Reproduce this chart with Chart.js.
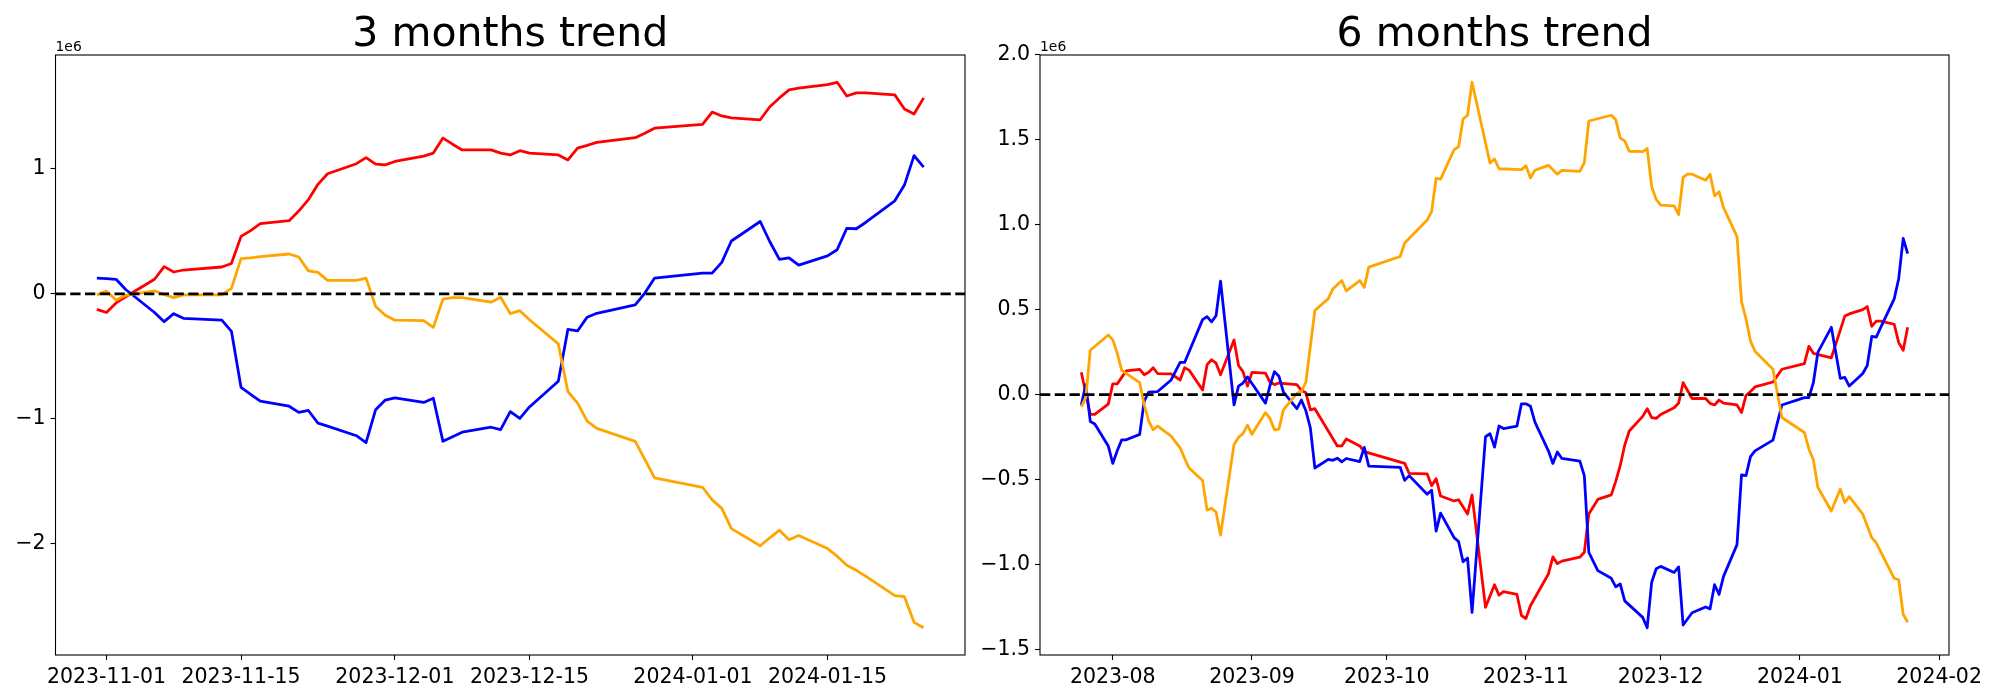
<!DOCTYPE html>
<html>
<head>
<meta charset="utf-8">
<script src="https://cdn.jsdelivr.net/npm/chart.js@4.4.1/dist/chart.umd.min.js"></script>
<style>
  html, body { margin: 0; padding: 0; background: #fff; }
  #wrap { position: relative; width: 2000px; height: 700px; overflow: hidden; }
  canvas { position: absolute; top: 0; }
</style>
</head>
<body>
<div id="wrap">
  <canvas id="chart3" width="970" height="700" style="left:0px"></canvas>
  <canvas id="chart6" width="1030" height="700" style="left:970px"></canvas>
</div>
<script>
// values are in units of 1e6

// ---- 3 months ----
const dates3 = ['2023-10-31','2023-11-01','2023-11-02','2023-11-03','2023-11-06','2023-11-07','2023-11-08','2023-11-09',
  '2023-11-13','2023-11-14','2023-11-15','2023-11-16','2023-11-17','2023-11-20','2023-11-21','2023-11-22','2023-11-23','2023-11-24',
  '2023-11-27','2023-11-28','2023-11-29','2023-11-30','2023-12-01','2023-12-04','2023-12-05','2023-12-06','2023-12-07','2023-12-08',
  '2023-12-11','2023-12-12','2023-12-13','2023-12-14','2023-12-15','2023-12-18','2023-12-19','2023-12-20','2023-12-21','2023-12-22',
  '2023-12-26','2023-12-27','2023-12-28','2024-01-02','2024-01-03','2024-01-04','2024-01-05','2024-01-08','2024-01-09','2024-01-10',
  '2024-01-11','2024-01-12','2024-01-15','2024-01-16','2024-01-17','2024-01-18','2024-01-19','2024-01-22','2024-01-23','2024-01-24','2024-01-25'];
const red3 = [-0.125,-0.150,-0.073,-0.024, 0.116,0.217,0.174,0.190, 0.214,0.242,0.459,0.505,0.560, 0.584,0.661,0.752,0.875,0.960,
  1.040,1.089,1.037,1.031,1.058, 1.101,1.125,1.245,1.196,1.150, 1.150,1.125,1.110,1.144,1.125, 1.110,1.070,1.165,1.187,1.211,
  1.248,1.284,1.324, 1.355,1.453,1.422,1.407, 1.391,1.495,1.566,1.630,1.645, 1.673,1.691,1.581,1.606,1.606, 1.590,1.477,1.437,1.566];
const blue3 = [0.125,0.122,0.116,0.034, -0.150,-0.223,-0.159,-0.196, -0.211,-0.300,-0.749,-0.804,-0.859, -0.899,-0.948,-0.933,-1.034,-1.058,
  -1.135,-1.190,-0.927,-0.850,-0.832, -0.869,-0.835,-1.180,-1.144,-1.107, -1.067,-1.086,-0.942,-0.997,-0.905, -0.700,-0.284,-0.297,-0.187,-0.156,
  -0.089,0.006,0.125, 0.165,0.165,0.251,0.422, 0.578,0.416,0.275,0.287,0.229, 0.303,0.352,0.523,0.520,0.572, 0.743,0.869,1.104,1.012];
const orange3 = [-0.009,0.021,-0.049,-0.012, 0.024,-0.006,-0.031,-0.009, -0.009,0.043,0.281,0.287,0.297, 0.318,0.294,0.183,0.171,0.107,
  0.107,0.125,-0.101,-0.171,-0.211, -0.214,-0.269,-0.043,-0.031,-0.031, -0.067,-0.028,-0.159,-0.135,-0.208, -0.401,-0.783,-0.875,-1.018,-1.076,
  -1.180,-1.324,-1.471, -1.547,-1.648,-1.716,-1.878, -2.015,-1.951,-1.890,-1.966,-1.933, -2.037,-2.098,-2.171,-2.211,-2.260, -2.413,-2.422,-2.627,-2.670];

const xTicks3 = ['2023-11-01','2023-11-15','2023-12-01','2023-12-15','2024-01-01','2024-01-15'];
const yTicks3 = [-2, -1, 0, 1];
const yLabels3 = ['\u22122', '\u22121', '0', '1'];

// ---- 6 months (each line keeps its own turning-point dates) ----
const red6Dates = ['2023-07-25','2023-07-27','2023-07-28','2023-07-31','2023-08-01','2023-08-02','2023-08-04','2023-08-07','2023-08-08',
  '2023-08-09','2023-08-10','2023-08-11','2023-08-14','2023-08-16','2023-08-17','2023-08-18','2023-08-21','2023-08-22','2023-08-23',
  '2023-08-24','2023-08-25','2023-08-28','2023-08-29','2023-08-30','2023-08-31','2023-09-01','2023-09-04','2023-09-05','2023-09-06',
  '2023-09-07','2023-09-11','2023-09-12','2023-09-13','2023-09-14','2023-09-15','2023-09-20','2023-09-21','2023-09-22','2023-09-25',
  '2023-09-26','2023-10-05','2023-10-06','2023-10-10','2023-10-11','2023-10-12','2023-10-13','2023-10-16','2023-10-17','2023-10-19',
  '2023-10-20','2023-10-23','2023-10-25','2023-10-26','2023-10-27','2023-10-30','2023-10-31','2023-11-01','2023-11-02','2023-11-06',
  '2023-11-07','2023-11-08','2023-11-09','2023-11-13','2023-11-14','2023-11-15','2023-11-17','2023-11-20','2023-11-21','2023-11-22',
  '2023-11-23','2023-11-24','2023-11-27','2023-11-28','2023-11-29','2023-11-30','2023-12-01','2023-12-04','2023-12-05','2023-12-06',
  '2023-12-08','2023-12-11','2023-12-12','2023-12-13','2023-12-14','2023-12-15','2023-12-18','2023-12-19','2023-12-20','2023-12-21',
  '2023-12-22','2023-12-26','2023-12-28','2024-01-02','2024-01-03','2024-01-04','2024-01-08','2024-01-11','2024-01-12','2024-01-15',
  '2024-01-16','2024-01-17','2024-01-18','2024-01-19','2024-01-22','2024-01-23','2024-01-24','2024-01-25'];
const red6 = [0.131,-0.117,-0.117,-0.056,0.063,0.063,0.140,0.149,0.117,
  0.131,0.158,0.124,0.122,0.086,0.158,0.144,0.027,0.176,0.205,
  0.185,0.117,0.322,0.171,0.135,0.050,0.131,0.126,0.074,0.059,
  0.068,0.059,0.025,0.011,-0.090,-0.083,-0.302,-0.302,-0.261,-0.302,
  -0.336,-0.405,-0.464,-0.466,-0.536,-0.495,-0.597,-0.626,-0.619,-0.703,
  -0.590,-1.252,-1.119,-1.180,-1.160,-1.176,-1.300,-1.318,-1.243,-1.056,
  -0.955,-0.995,-0.980,-0.957,-0.928,-0.703,-0.617,-0.590,-0.511,-0.417,
  -0.297,-0.214,-0.128,-0.083,-0.135,-0.140,-0.117,-0.077,-0.050,0.070,
  -0.023,-0.023,-0.052,-0.061,-0.032,-0.050,-0.061,-0.106,-0.005,0.018,
  0.045,0.074,0.149,0.182,0.284,0.243,0.216,0.462,0.475,0.500,
  0.518,0.401,0.432,0.432,0.414,0.306,0.261,0.396];

const blue6Dates = ['2023-07-25','2023-07-26','2023-07-27','2023-07-28','2023-07-31','2023-08-01','2023-08-02','2023-08-03','2023-08-04',
  '2023-08-07','2023-08-08','2023-08-09','2023-08-11','2023-08-14','2023-08-16','2023-08-17','2023-08-21','2023-08-22','2023-08-23',
  '2023-08-24','2023-08-25','2023-08-28','2023-08-29','2023-08-30','2023-08-31','2023-09-04','2023-09-05','2023-09-06','2023-09-07',
  '2023-09-08','2023-09-11','2023-09-12','2023-09-13','2023-09-14','2023-09-15','2023-09-18','2023-09-19','2023-09-20','2023-09-21',
  '2023-09-22','2023-09-25','2023-09-26','2023-09-27','2023-10-04','2023-10-05','2023-10-06','2023-10-10','2023-10-11','2023-10-12',
  '2023-10-13','2023-10-16','2023-10-17','2023-10-18','2023-10-19','2023-10-20','2023-10-23','2023-10-24','2023-10-25','2023-10-26',
  '2023-10-27','2023-10-30','2023-10-31','2023-11-01','2023-11-02','2023-11-03','2023-11-06','2023-11-07','2023-11-08','2023-11-09',
  '2023-11-13','2023-11-14','2023-11-15','2023-11-17','2023-11-20','2023-11-21','2023-11-22','2023-11-23','2023-11-27','2023-11-28',
  '2023-11-29','2023-11-30','2023-12-01','2023-12-04','2023-12-05','2023-12-06','2023-12-08','2023-12-11','2023-12-12','2023-12-13',
  '2023-12-14','2023-12-15','2023-12-18','2023-12-19','2023-12-20','2023-12-21','2023-12-22','2023-12-26','2023-12-28','2024-01-02',
  '2024-01-03','2024-01-04','2024-01-05','2024-01-08','2024-01-10','2024-01-11','2024-01-12','2024-01-15','2024-01-16','2024-01-17',
  '2024-01-18','2024-01-19','2024-01-22','2024-01-23','2024-01-24','2024-01-25'];
const blue6 = [-0.061,0.059,-0.158,-0.173,-0.302,-0.405,-0.331,-0.266,-0.266,
  -0.234,-0.038,0.014,0.018,0.086,0.189,0.189,0.441,0.459,0.428,
  0.464,0.667,-0.061,0.050,0.068,0.104,-0.050,0.052,0.135,0.108,
  0.014,-0.083,-0.032,-0.095,-0.196,-0.432,-0.381,-0.387,-0.374,-0.396,
  -0.376,-0.394,-0.311,-0.421,-0.428,-0.505,-0.477,-0.586,-0.563,-0.804,
  -0.698,-0.842,-0.865,-0.984,-0.962,-1.282,-0.248,-0.230,-0.309,-0.185,
  -0.200,-0.185,-0.054,-0.054,-0.068,-0.162,-0.331,-0.405,-0.338,-0.376,
  -0.392,-0.477,-0.928,-1.036,-1.081,-1.131,-1.115,-1.214,-1.311,-1.372,
  -1.104,-1.025,-1.011,-1.047,-1.014,-1.356,-1.284,-1.250,-1.261,-1.119,
  -1.176,-1.070,-0.883,-0.473,-0.477,-0.365,-0.331,-0.268,-0.061,-0.018,
  -0.018,0.070,0.248,0.396,0.095,0.101,0.050,0.124,0.171,0.342,
  0.338,0.396,0.563,0.682,0.919,0.829];

const orange6Dates = ['2023-07-25','2023-07-26','2023-07-27','2023-07-31','2023-08-01','2023-08-02','2023-08-03','2023-08-07','2023-08-08',
  '2023-08-09','2023-08-10','2023-08-11','2023-08-14','2023-08-16','2023-08-17','2023-08-18','2023-08-21','2023-08-22','2023-08-23',
  '2023-08-24','2023-08-25','2023-08-28','2023-08-29','2023-08-30','2023-08-31','2023-09-01','2023-09-04','2023-09-05','2023-09-06',
  '2023-09-07','2023-09-08','2023-09-11','2023-09-12','2023-09-13','2023-09-15','2023-09-18','2023-09-19','2023-09-21','2023-09-22',
  '2023-09-25','2023-09-26','2023-09-27','2023-10-04','2023-10-05','2023-10-10','2023-10-11','2023-10-12','2023-10-13','2023-10-16',
  '2023-10-17','2023-10-18','2023-10-19','2023-10-20','2023-10-24','2023-10-25','2023-10-26','2023-10-31','2023-11-01','2023-11-02',
  '2023-11-03','2023-11-06','2023-11-08','2023-11-09','2023-11-13','2023-11-14','2023-11-15','2023-11-20','2023-11-21','2023-11-22',
  '2023-11-23','2023-11-24','2023-11-27','2023-11-28','2023-11-29','2023-11-30','2023-12-01','2023-12-04','2023-12-05','2023-12-06',
  '2023-12-07','2023-12-08','2023-12-11','2023-12-12','2023-12-13','2023-12-14','2023-12-15','2023-12-18','2023-12-19','2023-12-20',
  '2023-12-21','2023-12-22','2023-12-26','2023-12-28','2024-01-02','2024-01-03','2024-01-04','2024-01-05','2024-01-08','2024-01-10',
  '2024-01-11','2024-01-12','2024-01-15','2024-01-17','2024-01-18','2024-01-22','2024-01-23','2024-01-24','2024-01-25'];
const orange6 = [-0.072,-0.016,0.261,0.351,0.322,0.243,0.142,0.070,-0.061,
  -0.155,-0.207,-0.185,-0.245,-0.313,-0.376,-0.432,-0.505,-0.680,-0.669,
  -0.691,-0.827,-0.293,-0.252,-0.230,-0.180,-0.234,-0.106,-0.140,-0.207,
  -0.203,-0.090,0.007,0.018,0.074,0.495,0.565,0.622,0.671,0.610,
  0.671,0.631,0.750,0.813,0.892,1.027,1.077,1.273,1.268,1.441,
  1.459,1.622,1.644,1.838,1.363,1.387,1.329,1.324,1.347,1.275,
  1.320,1.349,1.297,1.320,1.313,1.365,1.610,1.644,1.617,1.509,
  1.493,1.432,1.430,1.448,1.223,1.149,1.115,1.110,1.059,1.279,
  1.297,1.297,1.261,1.297,1.170,1.194,1.100,0.930,0.547,0.446,
  0.315,0.255,0.149,-0.135,-0.223,-0.320,-0.383,-0.545,-0.685,-0.556,
  -0.635,-0.601,-0.703,-0.842,-0.872,-1.081,-1.090,-1.293,-1.340];

const xTicks6 = ['2023-08','2023-09','2023-10','2023-11','2023-12','2024-01','2024-02'];
const yTicks6 = [-1.5, -1.0, -0.5, 0.0, 0.5, 1.0, 1.5, 2.0];
const yLabels6 = ['\u22121.5', '\u22121.0', '\u22120.5', '0.0', '0.5', '1.0', '1.5', '2.0'];

// ---- helpers ----
const day = s => Date.UTC(+s.slice(0, 4), +s.slice(5, 7) - 1, s.length > 7 ? +s.slice(8, 10) : 1) / 864e5;
const pts = (dates, vals) => dates.map((d, i) => ({ x: day(d), y: vals[i] }));

function padRange(values) {
  const lo = Math.min(...values), hi = Math.max(...values);
  const m = (hi - lo) * 0.05;
  return [lo - m, hi + m];
}

Chart.defaults.font.family = '"DejaVu Sans", sans-serif';
Chart.defaults.color = '#000';

// box, dashed zero line, title and 1e6 offset label
const frame = {
  id: 'frame',
  afterDatasetsDraw(chart, args, opts) {
    const { ctx, chartArea: a, scales } = chart;
    ctx.save();
    const y0 = scales.y.getPixelForValue(0);
    ctx.beginPath();
    ctx.setLineDash([10.3, 4.45]);
    ctx.lineWidth = 2.78;
    ctx.strokeStyle = '#000';
    ctx.moveTo(a.left, y0);
    ctx.lineTo(a.right, y0);
    ctx.stroke();
    ctx.setLineDash([]);
    ctx.lineWidth = 1.1;
    ctx.strokeRect(a.left, a.top, a.right - a.left, a.bottom - a.top);
    ctx.fillStyle = '#000';
    ctx.font = '41px "DejaVu Sans"';
    ctx.textAlign = 'center';
    ctx.textBaseline = 'alphabetic';
    ctx.fillText(opts.title, (a.left + a.right) / 2, 46);
    ctx.font = '13.9px "DejaVu Sans"';
    ctx.textAlign = 'left';
    ctx.fillText('1e6', a.left, a.top - 4.5);
    ctx.restore();
  }
};

function line(data, color, order) {
  return {
    data, borderColor: color, borderWidth: 2.78, pointRadius: 0,
    tension: 0, borderJoinStyle: 'round', order
  };
}

function makeChart(id, title, sets, xDates, xLabels, yTicks, yLabels, yWidth, padRight) {
  const allX = sets.flatMap(s => s.data.map(p => p.x));
  const allY = sets.flatMap(s => s.data.map(p => p.y));
  const [xMin, xMax] = padRange(allX);
  const [yMin, yMax] = padRange(allY);
  const tickStyle = { drawOnChartArea: false, tickLength: 5, tickWidth: 1.1, tickColor: '#000' };

  new Chart(document.getElementById(id), {
    type: 'line',
    data: { datasets: sets },
    options: {
      responsive: false,
      animation: false,
      devicePixelRatio: 1,
      layout: { padding: { top: 55, left: 0, right: padRight, bottom: 0 } },
      plugins: { legend: { display: false }, tooltip: { enabled: false }, frame: { title } },
      scales: {
        x: {
          type: 'linear', min: xMin, max: xMax,
          grid: tickStyle, border: { display: false },
          afterBuildTicks: s => { s.ticks = xDates.map(d => ({ value: day(d) })); },
          afterFit: s => { s.height = 45; },
          ticks: {
            autoSkip: false, maxRotation: 0, padding: 5,
            font: { size: 20.5 },
            callback: (v, i) => xLabels[i]
          }
        },
        y: {
          min: yMin, max: yMax,
          grid: tickStyle, border: { display: false },
          afterBuildTicks: s => { s.ticks = yTicks.map(v => ({ value: v })); },
          afterFit: s => { s.width = yWidth; },
          ticks: {
            padding: 5,
            font: { size: 20.5 },
            callback: (v, i) => yLabels[i]
          }
        }
      }
    },
    plugins: [frame]
  });
}

makeChart('chart3', '3 months trend', [
  line(pts(dates3, red3), '#ff0000', 3),
  line(pts(dates3, blue3), '#0000ff', 2),
  line(pts(dates3, orange3), '#ffa500', 1)
], xTicks3, xTicks3, yTicks3, yLabels3, 55.5, 5);

makeChart('chart6', '6 months trend', [
  line(pts(red6Dates, red6), '#ff0000', 3),
  line(pts(blue6Dates, blue6), '#0000ff', 2),
  line(pts(orange6Dates, orange6), '#ffa500', 1)
], xTicks6.map(m => m + '-01'), xTicks6, yTicks6, yLabels6, 70, 51);
</script>
</body>
</html>
